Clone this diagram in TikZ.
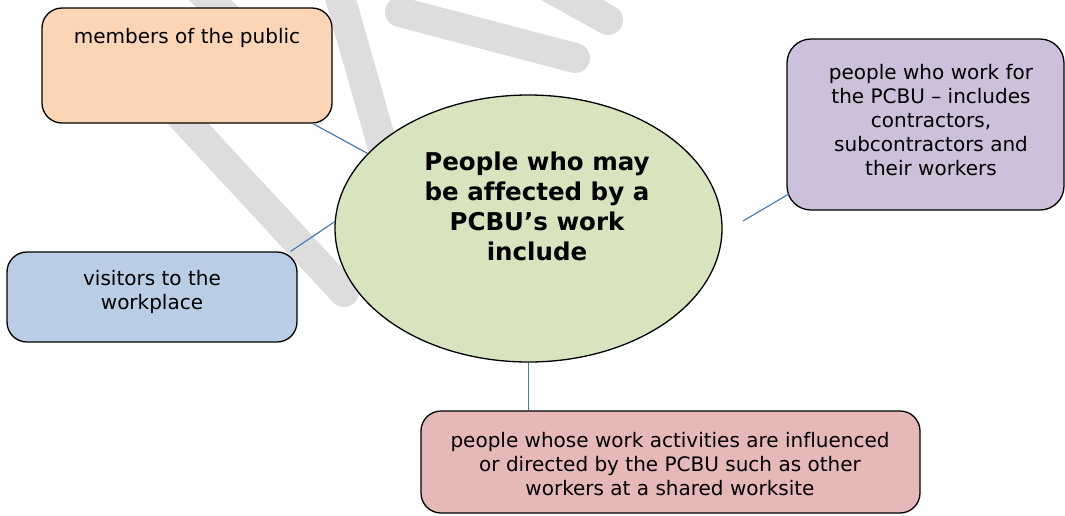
\documentclass[tikz,border=0pt]{standalone}
\usepackage{fontspec}
\setmainfont{DejaVu Sans}[Ligatures=NoCommon]
\usetikzlibrary{shapes.geometric}
\definecolor{orangefill}{HTML}{FBD5B5}
\definecolor{bluefill}{HTML}{B9CDE5}
\definecolor{purplefill}{HTML}{CCC0DA}
\definecolor{pinkfill}{HTML}{E6B9B8}
\definecolor{greenfill}{HTML}{D7E4BD}
\definecolor{connblue}{HTML}{4A7EBB}
\definecolor{wmgrey}{HTML}{DDDDDD}
\begin{document}
\begin{tikzpicture}[x=1pt,y=-1pt,
  box/.style={draw=black, line width=1.3pt, rounded corners=20pt, inner sep=0pt},
  txt/.style={align=center, font=\fontsize{20}{24}\selectfont, inner sep=0pt},
  bigtxt/.style={align=center, font=\fontsize{24.5}{30}\selectfont\bfseries, inner sep=0pt},
  conn/.style={draw=connblue, line width=1.2pt},
  wm/.style={draw=wmgrey, line width=30pt, line cap=round}]
\useasboundingbox (0,0) rectangle (1065,515);
% watermark
\draw[wm] (120,50) -- (344,292);
\draw[wm] (190,-20) -- (230,20);
\draw[wm] (338,-10) -- (385,155);
\draw[wm] (400,12) -- (575,58);
\draw[wm] (545,-15) -- (608,20);
% boxes
\node[box, fill=orangefill, minimum width=290pt, minimum height=115pt] (pub) at (187,65.5) {};
\node[box, fill=bluefill, minimum width=290pt, minimum height=90pt] (vis) at (152,297) {};
\node[box, fill=purplefill, minimum width=277pt, minimum height=171pt, rounded corners=24pt] (pu) at (925.5,124.5) {};
\node[box, fill=pinkfill, minimum width=499pt, minimum height=102pt] (pk) at (670.5,462) {};
\node[draw=black, line width=1.3pt, ellipse, fill=greenfill, minimum width=387pt, minimum height=267pt, inner sep=0pt] (ctr) at (528.5,228.5) {};
% texts
\node[txt] (tpub) at (187,38) {members of the public};
\node[txt] (tvis) at (152,292) {visitors to the\\workplace};
\node[txt] (tpu) at (931,120.5) {people who work for\\the PCBU – includes\\contractors,\\subcontractors and\\their workers};
\node[txt] (tpk) at (670,464) {people whose work activities are influenced\\or directed by the PCBU such as other\\workers at a shared worksite};
\node[bigtxt] (tctr) at (537,206) {People who may\\be affected by a\\PCBU’s work\\include};
% connectors
\coordinate (pe) at (743,221);
\draw[conn] ([xshift=126pt]pub.south) -- (ctr.155);
\draw[conn] ([xshift=-7pt]vis.north east) -- (ctr.178);
\draw[conn] ([xshift=3pt,yshift=17pt]pu.south west) -- (pe);
\draw[conn] (ctr.south) -- (ctr.south |- pk.north);
\end{tikzpicture}
\end{document}
